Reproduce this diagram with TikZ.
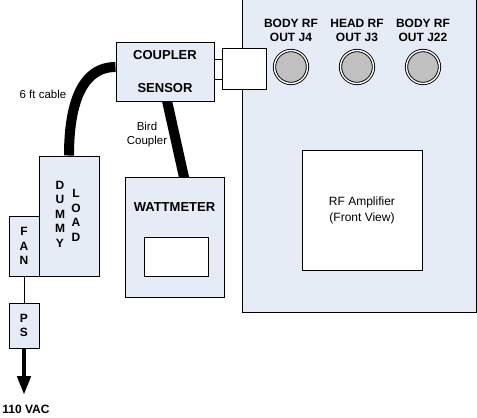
\documentclass[tikz,border=0pt]{standalone}
\usepackage{fontspec}
\setmainfont{Liberation Sans}
\usepackage{tikz}
\usetikzlibrary{arrows.meta,positioning,backgrounds}
\definecolor{PanelBlue}{RGB}{230,236,246}
\definecolor{JackGray}{RGB}{192,192,192}

\begin{document}
\begin{tikzpicture}[x=1pt, y=-1pt,
    box/.style={draw, line width=1pt, fill=PanelBlue, inner sep=0pt},
    blank/.style={draw, line width=1pt, fill=white, inner sep=0pt},
    jack/.style={circle, draw, fill=JackGray, line width=0.9pt, double=white, double distance=1.4pt, minimum size=33pt, inner sep=0pt},
    caps/.style={font=\fontsize{12}{14}\selectfont\bfseries, align=center},
    big/.style={font=\fontsize{13}{15}\selectfont\bfseries, align=center},
    plain/.style={font=\fontsize{11.5}{14}\selectfont, align=center},
    stack/.style={font=\fontsize{12}{14.5}\selectfont\bfseries, align=center},
    cable/.style={line width=10pt, black}]
    \useasboundingbox (0,0) rectangle (477,418);

    % RF amplifier front panel
    \node[box, minimum width=234pt, minimum height=316pt] (amp) at (359,154) {};
    \node[blank, font=\fontsize{12}{16}\selectfont, align=center, minimum width=120pt, minimum height=120pt] (front) at (362,210) {RF Amplifier\\(Front View)};

    % Output jacks
    \node[jack] (j4) at (291,67) {};
    \node[jack] (j3) at (357,67) {};
    \node[jack] (j22) at (423,67) {};
    \node[caps] (j4lbl) at (291,30) {BODY RF\\OUT J4};
    \node[caps] (j3lbl) at (357,30) {HEAD RF\\OUT J3};
    \node[caps] (j22lbl) at (423,30) {BODY RF\\OUT J22};

    % Coupler sensor and adapter
    \node[blank, minimum width=44pt, minimum height=41pt] (adapter) at (244,68.5) {};
    \node[box, big, minimum width=98pt, minimum height=59pt] (coupler) at (165,71.5) {COUPLER\\[18pt]SENSOR};
    \draw[line width=1pt] ([yshift=12.5pt]coupler.east) -- ([yshift=9.5pt]adapter.west);
    \draw[line width=1pt] ([yshift=-7.5pt]coupler.east) -- ([yshift=-10.5pt]adapter.west);

    % Wattmeter
    \node[box, minimum width=99pt, minimum height=120pt] (watt) at (174.5,237) {};
    \node[big] (wattlbl) at (174.5,207) {WATTMETER};
    \node[blank, minimum width=64pt, minimum height=39pt] (display) at (176,256.5) {};

    % Dummy load, fan and supply
    \node[box, minimum width=60pt, minimum height=120pt] (dummy) at (69,216) {};
    \node[stack] (dummytxt) at (60,214) {D\\U\\M\\M\\Y};
    \node[stack] (loadtxt) at (76,215.5) {L\\O\\A\\D};
    \node[box, stack, minimum width=30pt, minimum height=60pt] (fan) at (24,246) {F\\A\\N};
    \node[box, stack, minimum width=30pt, minimum height=45pt] (ps) at (24,325.5) {P\\S};
    \draw[line width=0.8pt] (fan) -- (ps);
    \coordinate (plug) at (24,395);
    \draw[line width=4.5pt, -{Triangle[width=13pt,length=19pt]}] (ps) -- (plug);
    \node[caps] (vac) at (26,409) {110 VAC};

    % Cables
    \begin{scope}[on background layer]
        \draw[cable] ([yshift=4.5pt]coupler.west) to[out=180, in=90] (dummy.north);
        \draw[cable] ([xshift=1.5pt, yshift=3pt]coupler.south) -- ([xshift=10pt, yshift=-3pt]watt.north);
    \end{scope}
    \node[plain] (cablelbl) at (43,94) {6 ft cable};
    \node[plain] (birdlbl) at (147,135) {Bird\\Coupler};
\end{tikzpicture}
\end{document}
